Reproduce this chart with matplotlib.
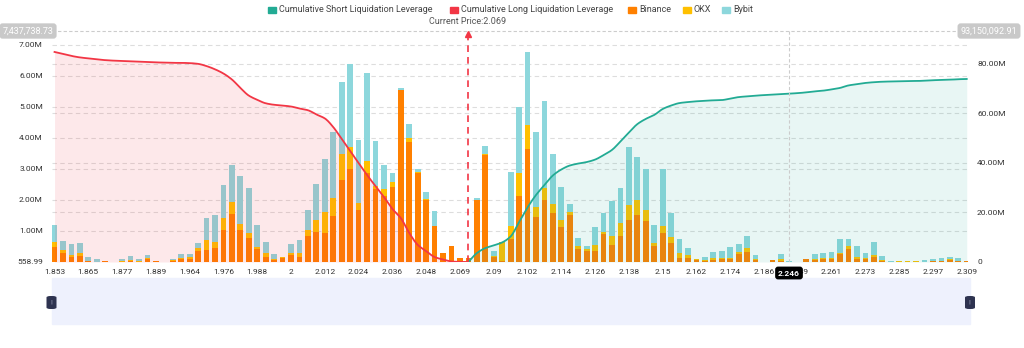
import numpy as np
import matplotlib.pyplot as plt
from matplotlib.patches import Rectangle, FancyBboxPatch

plt.rcParams['font.family'] = ['Roboto', 'DejaVu Sans']

# price levels shown on the x axis (every 4th bar)
tick_labels = ["1.853", "1.865", "1.877", "1.889", "1.964", "1.976", "1.988", "2",
               "2.012", "2.024", "2.036", "2.048", "2.069", "2.09", "2.102", "2.114",
               "2.126", "2.138", "2.15", "2.162", "2.174", "2.186", "2.249", "2.261",
               "2.273", "2.285", "2.297", "2.309"]

# liquidation amounts per price level, in millions
binance = [0.49, 0.28, 0.17, 0.19, 0.02, 0.01, 0.02, 0.005, 0.01, 0.02,
           0.01, 0.09, 0.03, 0.005, 0.04, 0.11, 0.11, 0.37, 0.39, 0.44,
           1.03, 1.54, 1.03, 0.78, 0.42, 0.15, 0.06, 0.14, 0.22, 0.17,
           0.85, 0.96, 0.95, 1.49, 2.65, 2.99, 1.68, 2.88, 2.35, 2.11,
           2.43, 5.53, 3.88, 2.86, 2.00, 1.17, 0.30, 0.52, 0.14, 0.13,
           2.00, 3.43, 0.15, 0.02, 0.73, 2.11, 3.64, 1.46, 2.00, 1.59,
           1.14, 1.52, 0.42, 0.37, 0.37, 0.90, 0.55, 0.85, 1.36, 1.52,
           1.33, 0.53, 0.95, 0.62, 0.12, 0.14, 0.07, 0.04, 0.06, 0.10,
           0.09, 0.26, 0.33, 0.06, 0.005, 0.06, 0.04, 0.0, 0.0, 0.09,
           0.08, 0.09, 0.10, 0.26, 0.41, 0.11, 0.11, 0.17, 0.03, 0.0,
           0.01, 0.01, 0.01, 0.0, 0.02, 0.03, 0.06, 0.03, 0.03]
okx = [0.16, 0.11, 0.06, 0.09, 0.01, 0.0, 0.0, 0.0, 0.02, 0.03,
       0.01, 0.03, 0.0, 0.0, 0.01, 0.03, 0.04, 0.09, 0.32, 0.22,
       0.38, 0.39, 0.20, 0.17, 0.07, 0.13, 0.05, 0.01, 0.06, 0.11,
       0.18, 0.39, 0.67, 0.56, 0.83, 0.70, 0.23, 0.36, 0.10, 0.24,
       0.14, 0.02, 0.11, 0.05, 0.03, 0.0, 0.0, 0.0, 0.0, 0.01,
       0.0, 0.04, 0.04, 0.61, 0.43, 0.75, 0.78, 0.32, 0.38, 0.27,
       0.21, 0.10, 0.10, 0.05, 0.18, 0.06, 0.29, 0.41, 0.46, 0.48,
       0.35, 0.07, 0.22, 0.18, 0.16, 0.09, 0.02, 0.02, 0.06, 0.04,
       0.05, 0.07, 0.11, 0.04, 0.005, 0.0, 0.05, 0.0, 0.0, 0.02,
       0.03, 0.05, 0.04, 0.04, 0.11, 0.04, 0.03, 0.06, 0.03, 0.0,
       0.01, 0.01, 0.01, 0.0, 0.0, 0.0, 0.03, 0.0, 0.0]
bybit = [0.55, 0.30, 0.34, 0.33, 0.14, 0.08, 0.0, 0.0, 0.06, 0.14,
         0.08, 0.10, 0.0, 0.0, 0.06, 0.12, 0.12, 0.15, 0.70, 0.86,
         1.07, 1.18, 1.55, 1.43, 0.71, 0.37, 0.14, 0.02, 0.29, 0.43,
         0.65, 1.16, 1.69, 2.12, 2.33, 2.67, 2.03, 2.85, 1.46, 0.78,
         0.29, 0.05, 0.46, 0.08, 0.21, 0.48, 0.0, 0.0, 0.0, 0.0,
         0.05, 0.25, 0.16, 0.02, 1.73, 2.12, 2.34, 2.40, 2.82, 1.61,
         1.08, 0.25, 0.24, 0.11, 0.57, 0.63, 1.13, 1.12, 1.88, 1.37,
         1.32, 0.59, 1.82, 0.77, 0.46, 0.22, 0.0, 0.11, 0.20, 0.21,
         0.33, 0.24, 0.40, 0.12, 0.0, 0.0, 0.17, 0.04, 0.01, 0.0,
         0.15, 0.16, 0.17, 0.44, 0.22, 0.37, 0.16, 0.40, 0.13, 0.04,
         0.01, 0.0, 0.0, 0.05, 0.07, 0.09, 0.08, 0.11, 0.0]

# cumulative leverage curves, in millions (right axis)
long_cum = [84.7, 83.9, 83.1, 82.5, 82.1, 81.7, 81.4, 81.2, 81.1, 80.9,
            80.8, 80.6, 80.5, 80.4, 80.3, 80.3, 80.2, 79.9, 79.0, 77.7,
            76.0, 73.6, 70.2, 67.1, 65.4, 64.0, 63.4, 63.1, 62.7, 61.9,
            61.2, 59.5, 57.9, 54.4, 49.6, 44.8, 39.9, 35.1, 30.6, 26.2,
            21.4, 17.7, 11.7, 6.9, 4.4, 2.0, 1.0, 0.2, 0.05, 0.0]
short_cum = [0.0, 3.6, 5.6, 6.7, 7.9, 10.3, 16.1, 22.0, 27.0, 31.0,
             34.9, 37.3, 38.9, 39.7, 40.3, 41.3, 43.1, 45.2, 48.6, 52.2,
             55.6, 57.7, 59.3, 61.7, 63.1, 64.1, 64.5, 64.8, 65.0, 65.2,
             65.3, 65.9, 66.5, 66.8, 67.1, 67.3, 67.5, 67.7, 67.9, 68.1,
             68.4, 68.8, 69.1, 69.6, 70.2, 71.2, 71.7, 72.2, 72.5, 72.7,
             72.8, 72.9, 73.0, 73.0, 73.1, 73.3, 73.4, 73.5, 73.7, 73.8]

current_price = "2.069"
current_pos = 49
hover_pos = 87
hover_label = "2.246"
left_min, left_max = 558.99 / 1e6, 7.43773873
right_max = 93.15009291

c_binance = "#ff8000"
c_okx = "#ffc000"
c_bybit = "#8dd7dc"
c_long = "#f23645"
c_short = "#22ab94"


def fx(px):
    return px / 1024


def fy(py):
    return 1 - py / 348


def smooth(xp, yp, n=8):
    # monotone cubic through the points, only for drawing a smooth line
    xp = np.asarray(xp, float)
    yp = np.asarray(yp, float)
    h = np.diff(xp)
    d = np.diff(yp) / h
    m = np.zeros_like(yp)
    m[0], m[-1] = d[0], d[-1]
    for k in range(1, len(yp) - 1):
        if d[k - 1] * d[k] > 0:
            w1 = 2 * h[k] + h[k - 1]
            w2 = h[k] + 2 * h[k - 1]
            m[k] = (w1 + w2) / (w1 / d[k - 1] + w2 / d[k])
    xs, ys = [], []
    for k in range(len(h)):
        t = np.linspace(0, 1, n, endpoint=False)
        h00 = 2 * t**3 - 3 * t**2 + 1
        h10 = t**3 - 2 * t**2 + t
        h01 = -2 * t**3 + 3 * t**2
        h11 = t**3 - t**2
        xs.append(xp[k] + t * h[k])
        ys.append(h00 * yp[k] + h10 * h[k] * m[k] + h01 * yp[k + 1] + h11 * h[k] * m[k + 1])
    xs.append([xp[-1]])
    ys.append([yp[-1]])
    return np.concatenate(xs), np.concatenate(ys)


fig = plt.figure(figsize=(10.24, 3.48), dpi=100)
ax = fig.add_axes([fx(52), fy(262), fx(916), 231 / 348])

x = np.arange(len(binance))
b = np.array(binance)
o = np.array(okx)
y = np.array(bybit)
w = 0.68
ax.bar(x, b, w, color=c_binance, zorder=3)
ax.bar(x, o, w, bottom=b, color=c_okx, zorder=3)
ax.bar(x, y, w, bottom=b + o, color=c_bybit, zorder=3)

ax.set_xlim(-0.3, 108.15)
ax.set_ylim(left_min, left_max)

# dashed split lines for both axes
ratio = left_max / right_max
for v in [1, 2, 3, 4, 5, 6, 7]:
    ax.axhline(v, color="#dddddd", lw=0.8, ls=(0, (4, 3)), zorder=1)
for v in [20, 40, 60, 80]:
    ax.axhline(v * ratio, color="#dddddd", lw=0.8, ls=(0, (4, 3)), zorder=1)

ax.set_yticks([left_min, 1, 2, 3, 4, 5, 6, 7])
ax.set_yticklabels(["558.99", "1.00M", "2.00M", "3.00M", "4.00M", "5.00M", "6.00M", "7.00M"])
ax.set_xticks(x[::4])
ax.set_xticklabels(tick_labels)
ax.tick_params(axis="both", length=0, labelsize=6, labelcolor="#333333")
ax.tick_params(axis="x", pad=5)
ax.tick_params(axis="y", pad=6.5)
for s in ax.spines.values():
    s.set_visible(False)

ax2 = ax.twinx()
ax2.set_ylim(0, right_max)
xl = x[:len(long_cum)]
xs = x[current_pos:current_pos + len(short_cum)]
lx, ly = smooth(xl, long_cum)
sx, sy = smooth(xs, short_cum)
ax2.fill_between(lx, 0, ly, color=c_long, alpha=0.11, lw=0)
ax2.fill_between(sx, 0, sy, color=c_short, alpha=0.10, lw=0)
ax2.plot(lx, ly, color=c_long, lw=1.3)
ax2.plot(sx, sy, color=c_short, lw=1.3)
ax2.set_yticks([0, 20, 40, 60, 80])
ax2.set_yticklabels(["0", "20.00M", "40.00M", "60.00M", "80.00M"])
ax2.tick_params(axis="y", length=0, labelsize=6, labelcolor="#333333", pad=6.5)
for s in ax2.spines.values():
    s.set_visible(False)

# current price marker
ax2.plot([current_pos, current_pos], [0, right_max * 0.995], color=c_long, lw=1.2,
         ls=(0, (4, 3)), zorder=5)
ax2.plot(current_pos, right_max * 0.985, marker="^", ms=4, color=c_long, zorder=6,
         clip_on=False)
fig.text(fx(468), fy(22), "Current Price:" + current_price, ha="center", va="center",
         fontsize=6.5, color="#555555")

# crosshair
ax2.axhline(right_max, color="#cccccc", lw=0.8, ls=(0, (3, 2)), zorder=4, clip_on=False)
ax2.axvline(hover_pos, color="#cccccc", lw=0.8, ls=(0, (3, 2)), zorder=4)
fig.text(fx(28), fy(31), "7,437,738.73", ha="center", va="center", fontsize=6.5,
         color="white", bbox=dict(boxstyle="round,pad=0.35", fc="#c9c9c9", ec="none"))
fig.text(fx(989), fy(31), "93,150,092.91", ha="center", va="center", fontsize=6.5,
         color="white", bbox=dict(boxstyle="round,pad=0.35", fc="#c9c9c9", ec="none"))
fig.text(fx(789), fy(273), hover_label, ha="center", va="center", fontsize=6,
         color="white", fontweight="bold", zorder=10,
         bbox=dict(boxstyle="round,pad=0.35", fc="black", ec="none"))

# legend
items = [(268, c_short, "Cumulative Short Liquidation Leverage"),
         (450, c_long, "Cumulative Long Liquidation Leverage"),
         (628, c_binance, "Binance"),
         (683, c_okx, "OKX"),
         (722, c_bybit, "Bybit")]
for px, col, lab in items:
    fig.add_artist(Rectangle((fx(px), fy(13)), fx(8), 6 / 348, color=col,
                             transform=fig.transFigure))
    fig.text(fx(px + 11), fy(9.5), lab, ha="left", va="center", fontsize=6.5,
             color="#444444")

# data zoom slider
fig.add_artist(Rectangle((fx(52), fy(324)), fx(918), 46 / 348, color="#eef1fd",
                         transform=fig.transFigure, zorder=0))
for hx in [51.5, 970]:
    fig.add_artist(FancyBboxPatch((fx(hx - 5), fy(309)), fx(10), 13 / 348,
                                  boxstyle="round,pad=0,rounding_size=0.004",
                                  fc="#2e3350", ec="none", transform=fig.transFigure))
    fig.text(fx(hx), fy(302.5), "||", ha="center", va="center", fontsize=4,
             color="#9aa0b8")

fig.savefig("out.png", dpi=100)
